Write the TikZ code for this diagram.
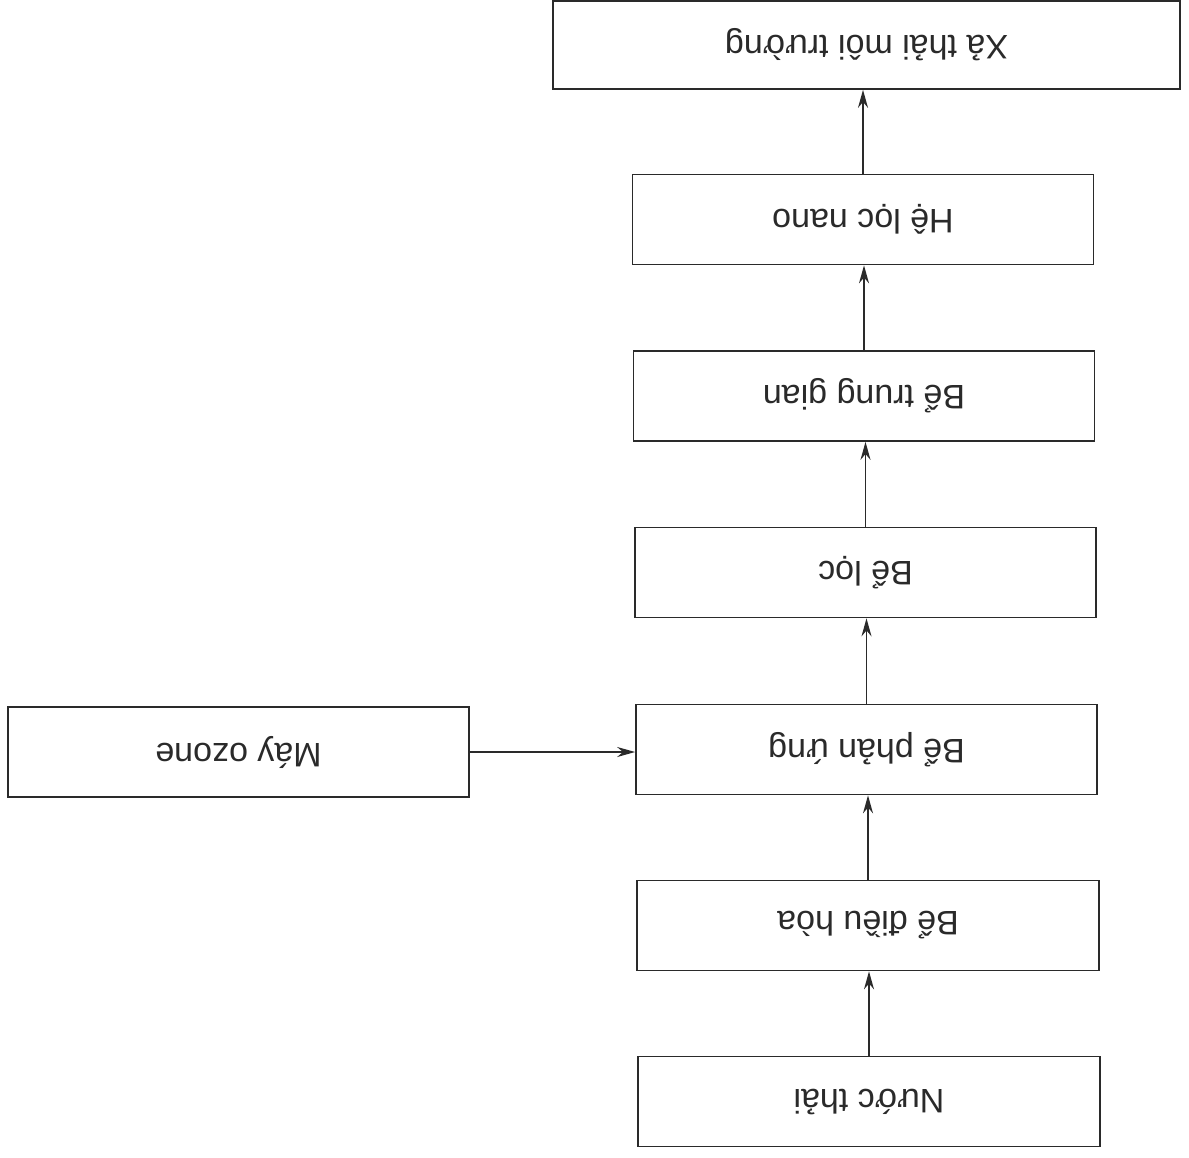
\documentclass[tikz,border=0pt]{standalone}
\usepackage{fontspec}
\usepackage{graphicx}
\setmainfont{Liberation Sans}
\usetikzlibrary{arrows.meta}
\definecolor{ink}{HTML}{2A2A2A}
\tikzset{
  procbox/.style={draw=ink, line width=1.7pt, minimum height=90pt, inner sep=0pt,
    text=ink, font=\fontsize{34}{40}\selectfont},
  flow/.style={draw=ink, line width=1.5pt, -{Stealth[length=18pt,width=10pt]}}
}
\newcommand{\flip}[1]{\rotatebox[origin=c]{180}{#1}}
\begin{document}
\begin{tikzpicture}[x=1pt,y=-1pt]
  \fill[white] (0,0) rectangle (1189,1157);
  \useasboundingbox (0,0) rectangle (1189,1157);
  \node[procbox, minimum width=627pt, minimum height=88pt] (xa) at (866.5,45) {\flip{Xả thải môi trường}};
  \node[procbox, minimum width=461pt] (nano) at (863,219.5) {\flip{Hệ lọc nano}};
  \node[procbox, minimum width=461pt] (tg) at (864,396) {\flip{Bể trung gian}};
  \node[procbox, minimum width=461pt] (loc) at (865.5,572.5) {\flip{Bể lọc}};
  \node[procbox, minimum width=461pt] (pu) at (866.5,749.5) {\flip{Bể phản ứng}};
  \node[procbox, minimum width=462pt] (dh) at (868,925.5) {\flip{Bể điều hòa}};
  \node[procbox, minimum width=462pt] (nt) at (869,1101.5) {\flip{Nước thải}};
  \node[procbox, minimum width=461pt] (oz) at (238.5,752) {\flip{Máy ozone}};
  \draw[flow] (nt.north) -- (nt.north |- dh.south);
  \draw[flow] (dh.north) -- (dh.north |- pu.south);
  \draw[flow] (pu.north) -- (pu.north |- loc.south);
  \draw[flow] (loc.north) -- (loc.north |- tg.south);
  \draw[flow] (tg.north) -- (tg.north |- nano.south);
  \draw[flow] (nano.north) -- (nano.north |- xa.south);
  \draw[flow] (oz.east) -- (oz.east -| pu.west);
\end{tikzpicture}
\end{document}
